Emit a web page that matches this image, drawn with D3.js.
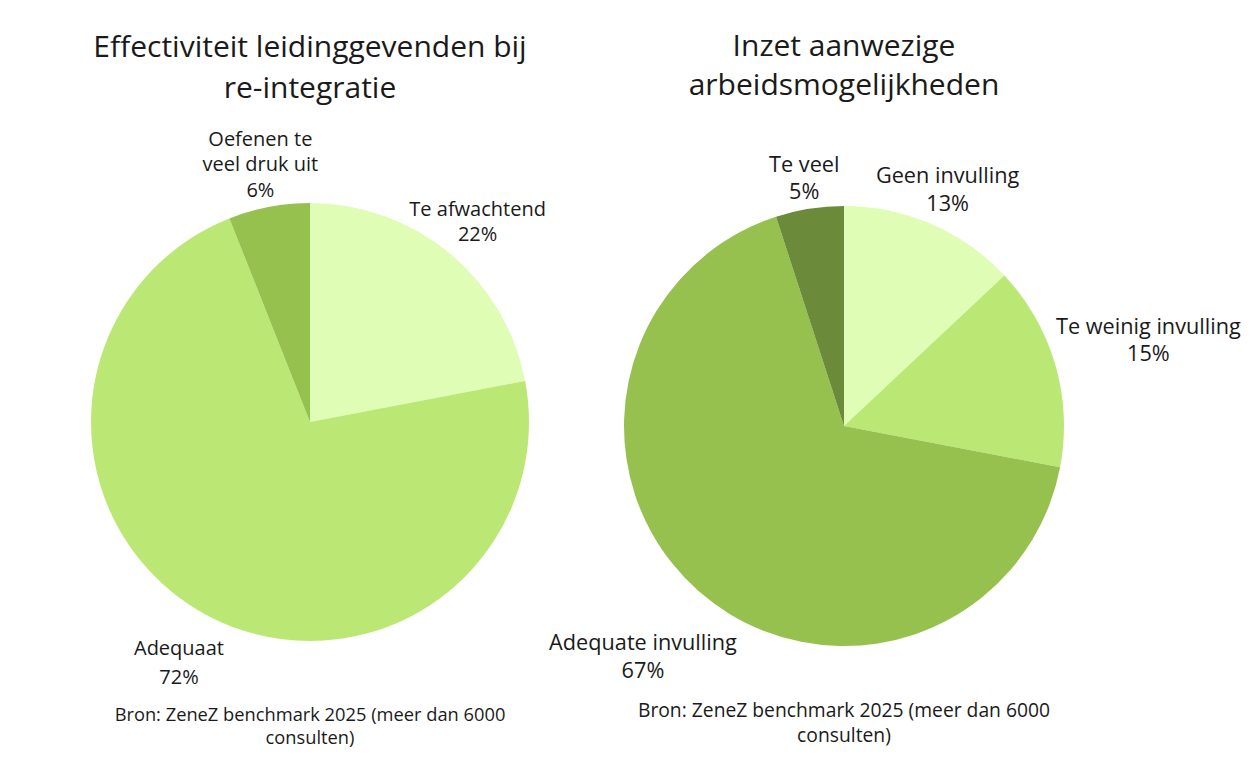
<!DOCTYPE html>
<html><head><meta charset="utf-8">
<script src="https://cdn.jsdelivr.net/npm/d3@7"></script>
<style>body{margin:0;background:#fff}svg{display:block;font-family:"Open Sans",sans-serif}</style>
</head><body><svg id="c" width="1250" height="781"></svg>
<script>
// ---- data ----
const leftTitle = ["Effectiviteit leidinggevenden bij", "re-integratie"];
const leftCategories = ["Te afwachtend", "Adequaat", "Oefenen te veel druk uit"];
const leftValues = [22, 72, 6];
const leftLabelLines = [["Te afwachtend"], ["Adequaat"], ["Oefenen te", "veel druk uit"]];

const rightTitle = ["Inzet aanwezige", "arbeidsmogelijkheden"];
const rightCategories = ["Geen invulling", "Te weinig invulling", "Adequate invulling", "Te veel"];
const rightValues = [13, 15, 67, 5];
const rightLabelLines = [["Geen invulling"], ["Te weinig invulling"], ["Adequate invulling"], ["Te veel"]];

const sourceLines = ["Bron: ZeneZ benchmark 2025 (meer dan 6000", "consulten)"];

// ---- layout / style ----
const svg = d3.select("#c");
const charts = [
  {title: leftTitle, cats: leftCategories, vals: leftValues, lines: leftLabelLines,
   cx: 310, cy: 422, r: 219, titleY: 57, titleLH: 41, titleSize: 30,
   srcY: 721, srcLH: 23, srcSize: 18.3,
   colors: ["#dffdb4", "#bbe874", "#96c14e"],
   labelSize: 20, labelR: [263, 272, 265], labelLH: [25, 29, 25.5]},
  {title: rightTitle, cats: rightCategories, vals: rightValues, lines: rightLabelLines,
   cx: 844, cy: 426, r: 220, titleY: 56, titleLH: 39, titleSize: 30,
   srcY: 717, srcLH: 25, srcSize: 19.3,
   colors: ["#dffdb4", "#bbe874", "#96c14e", "#6b8a3a"],
   labelSize: 21.7, labelR: [261, 317, 304, 254], labelLH: [28, 27, 28, 27]}
];

charts.forEach(ch => {
  const g = svg.append("g");
  const pie = d3.pie().sort(null).value(d => d.v);
  const data = ch.vals.map((v, i) => ({v, c: ch.cats[i], lines: ch.lines[i], i}));
  const arcs = pie(data);
  const arc = d3.arc().innerRadius(0).outerRadius(ch.r);
  const color = d3.scaleOrdinal().domain(ch.cats).range(ch.colors);
  const pg = g.append("g").attr("transform", `translate(${ch.cx},${ch.cy})`);
  pg.selectAll("path").data(arcs).join("path")
    .attr("d", arc).attr("fill", d => color(d.data.c));

  // labels
  arcs.forEach(a => {
    const mid = (a.startAngle + a.endAngle) / 2;
    const rr = ch.labelR[a.index];
    const x = Math.sin(mid) * rr, y = -Math.cos(mid) * rr;
    const lines = a.data.lines.concat([Math.round(a.value) + "%"]);
    const lh = ch.labelLH[a.index];
    const t = pg.append("text").attr("text-anchor", "middle").attr("font-size", ch.labelSize).attr("fill", "#1a1a1a");
    lines.forEach((ln, k) => {
      t.append("tspan").attr("x", x).attr("y", y + (k - (lines.length - 1) / 2) * lh + 0.35 * ch.labelSize + 2.5).text(ln);
    });
  });

  // title
  const tt = g.append("text").attr("text-anchor", "middle").attr("font-size", ch.titleSize).attr("fill", "#1a1a1a");
  ch.title.forEach((ln, k) => tt.append("tspan").attr("x", ch.cx).attr("y", ch.titleY + k * ch.titleLH).text(ln));
  // source
  const st = g.append("text").attr("text-anchor", "middle").attr("font-size", ch.srcSize).attr("fill", "#1a1a1a");
  sourceLines.forEach((ln, k) => st.append("tspan").attr("x", ch.cx).attr("y", ch.srcY + k * ch.srcLH).text(ln));
});
</script></body></html>
